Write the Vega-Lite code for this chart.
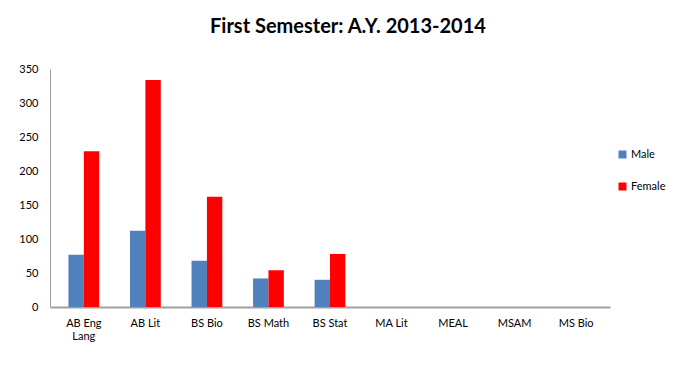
{
  "$schema": "https://vega.github.io/schema/vega-lite/v6.json",
  "width": 560,
  "height": 238,
  "autosize": "none",
  "padding": {"left": 50, "top": 69, "right": 87, "bottom": 81},
  "background": "white",
  "title": {
    "text": "First Semester: A.Y. 2013-2014",
    "font": "Lato",
    "fontSize": 20,
    "fontWeight": "bold",
    "color": "#000000",
    "anchor": "middle",
    "dx": 18,
    "offset": 26
  },
  "data": {
    "values": [
      {"program": "AB Eng Lang", "sex": "Male", "count": 77},
      {"program": "AB Eng Lang", "sex": "Female", "count": 229},
      {"program": "AB Lit", "sex": "Male", "count": 112},
      {"program": "AB Lit", "sex": "Female", "count": 334},
      {"program": "BS Bio", "sex": "Male", "count": 68},
      {"program": "BS Bio", "sex": "Female", "count": 162},
      {"program": "BS Math", "sex": "Male", "count": 42},
      {"program": "BS Math", "sex": "Female", "count": 54},
      {"program": "BS Stat", "sex": "Male", "count": 40},
      {"program": "BS Stat", "sex": "Female", "count": 78},
      {"program": "MA Lit", "sex": "Male", "count": 0},
      {"program": "MA Lit", "sex": "Female", "count": 0},
      {"program": "MEAL", "sex": "Male", "count": 0},
      {"program": "MEAL", "sex": "Female", "count": 0},
      {"program": "MSAM", "sex": "Male", "count": 0},
      {"program": "MSAM", "sex": "Female", "count": 0},
      {"program": "MS Bio", "sex": "Male", "count": 0},
      {"program": "MS Bio", "sex": "Female", "count": 0}
    ]
  },
  "mark": {"type": "bar"},
  "encoding": {
    "x": {
      "field": "program",
      "type": "nominal",
      "sort": null,
      "scale": {"paddingInner": 0.5, "paddingOuter": 0.3},
      "axis": {
        "title": null,
        "labelAngle": 0,
        "labelFont": "Lato",
        "labelFontSize": 11,
        "labelColor": "#000000",
        "labelPadding": 10,
        "ticks": false,
        "domainColor": "#A0A0A0",
        "domainWidth": 2,
        "labelExpr": "datum.label == 'AB Eng Lang' ? ['AB Eng', 'Lang'] : datum.label"
      }
    },
    "xOffset": {"field": "sex", "type": "nominal", "sort": ["Male", "Female"], "scale": {"paddingInner": 0}},
    "y": {
      "field": "count",
      "type": "quantitative",
      "scale": {"domain": [0, 350]},
      "axis": {
        "title": null,
        "values": [0, 50, 100, 150, 200, 250, 300, 350],
        "grid": false,
        "ticks": false,
        "labelPadding": 12,
        "labelFont": "Lato",
        "labelFontSize": 11,
        "labelColor": "#000000",
        "domainColor": "#A0A0A0"
      }
    },
    "color": {
      "field": "sex",
      "type": "nominal",
      "sort": ["Male", "Female"],
      "scale": {"domain": ["Male", "Female"], "range": ["#4F81BD", "#FF0000"]},
      "legend": {
        "title": null,
        "orient": "none",
        "legendX": 567,
        "legendY": 80,
        "symbolType": "square",
        "symbolSize": 64,
        "symbolStrokeWidth": 0,
        "labelFont": "Lato",
        "labelFontSize": 11,
        "labelColor": "#000000",
        "labelOffset": 3,
        "rowPadding": 20
      }
    }
  },
  "config": {"view": {"stroke": null}}
}
